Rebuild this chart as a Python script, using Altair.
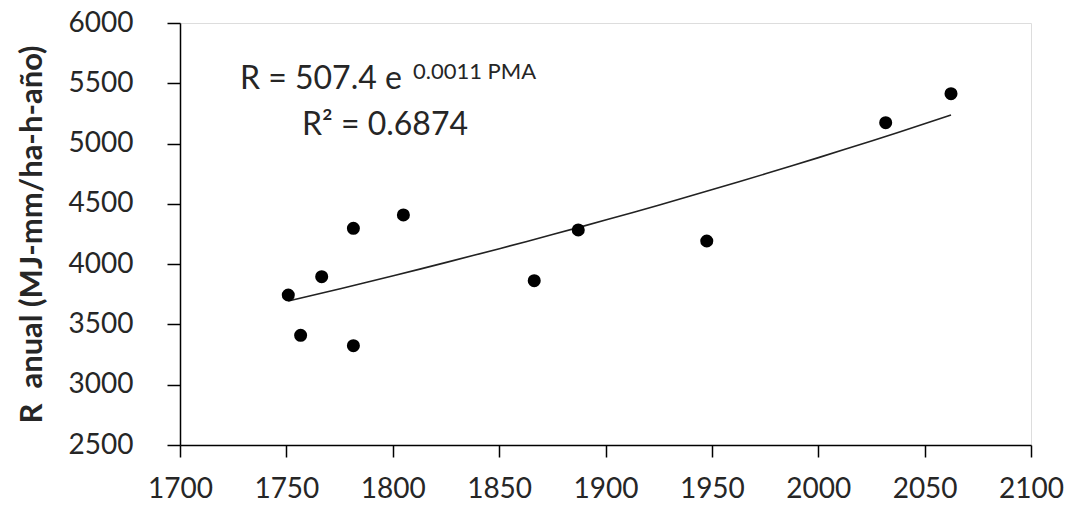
import altair as alt
import pandas as pd

# Data
pma = [1750.9, 1756.7, 1766.6, 1781.5, 1781.5, 1805.0, 1866.5, 1887.2, 1947.6, 2031.7, 2062.4]
r_anual = [3744, 3410, 3896, 4297, 3324, 4408, 3863, 4284, 4192, 5173, 5414]

x_ticks = [1700, 1750, 1800, 1850, 1900, 1950, 2000, 2050, 2100]
y_ticks = [2500, 3000, 3500, 4000, 4500, 5000, 5500, 6000]

eq_main = "R = 507.4 e"
eq_sup = "0.0011 PMA"
eq_r2 = "R² = 0.6874"
y_title = "R\u00a0\u00a0anual (MJ-mm/ha-h-año)"

df = pd.DataFrame({"PMA": pma, "R": r_anual})

FONT = "Lato"
TXT = "#262626"

x_enc = alt.X("PMA:Q", scale=alt.Scale(domain=[1700, 2100], nice=False, zero=False),
              axis=alt.Axis(values=x_ticks, title=None, grid=False, format="d",
                            labelFontSize=28, labelFont=FONT, labelColor=TXT,
                            labelPadding=18, tickSize=12, tickWidth=1.5, tickColor="#000",
                            domainColor="#000", domainWidth=1.5, labelFlush=False))
y_enc = alt.Y("R:Q", scale=alt.Scale(domain=[2500, 6000], nice=False, zero=False),
              axis=alt.Axis(values=y_ticks, title=y_title, grid=False, format="d",
                            labelFontSize=28, labelFont=FONT, labelColor=TXT,
                            labelPadding=34, tickSize=13, tickWidth=1.5, tickColor="#000",
                            domainColor="#000", domainWidth=1.5,
                            titleFont=FONT, titleFontSize=31, titleFontWeight="bold",
                            titleColor=TXT, titlePadding=20))

points = alt.Chart(df).mark_circle(size=170, color="#000", opacity=1).encode(x=x_enc, y=y_enc)

trend = alt.Chart(df).transform_regression("PMA", "R", method="exp").mark_line(
    color="#222", strokeWidth=1.6).encode(x="PMA:Q", y="R:Q")

ann = pd.DataFrame({"t": [eq_main, eq_sup, eq_r2]})
t1 = alt.Chart(ann).transform_filter(alt.datum.t == eq_main).mark_text(
    align="left", baseline="alphabetic", font=FONT, fontSize=32, color=TXT
).encode(text="t:N", x=alt.value(60), y=alt.value(66))
t2 = alt.Chart(ann).transform_filter(alt.datum.t == eq_sup).mark_text(
    align="left", baseline="alphabetic", font=FONT, fontSize=22, color=TXT
).encode(text="t:N", x=alt.value(233), y=alt.value(56))
t3 = alt.Chart(ann).transform_filter(alt.datum.t == eq_r2).mark_text(
    align="left", baseline="alphabetic", font=FONT, fontSize=32, color=TXT
).encode(text="t:N", x=alt.value(122), y=alt.value(112))

chart = alt.layer(trend, points, t1, t2, t3).properties(
    width=851, height=422,
    autosize=alt.AutoSizeParams(type="none"),
    padding={"left": 172, "top": 15, "right": 34, "bottom": 59},
).configure_view(stroke="#000", strokeWidth=1.5).configure(background="white")

chart.save("out.html", embed_options={"renderer": "svg", "actions": False})
